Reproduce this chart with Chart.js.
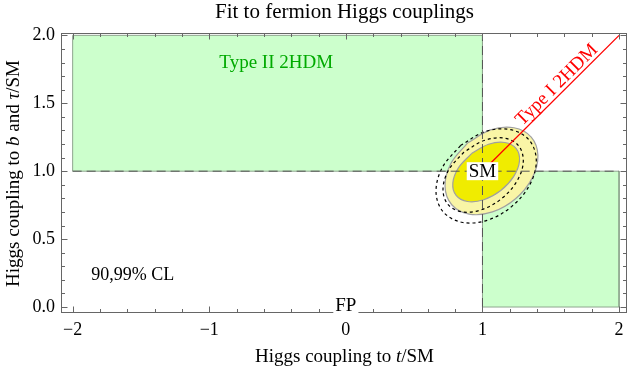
<!DOCTYPE html>
<html><head><meta charset="utf-8">
<script src="https://cdn.jsdelivr.net/npm/chart.js@4.4.1/dist/chart.umd.min.js"></script>
<style>html,body{margin:0;padding:0;background:#fff;}#wrap{width:630px;height:370px;}</style>
</head><body><div id="wrap"><canvas id="c" width="630" height="370"></canvas></div>
<script>
// ---- text ----
const chartTitle = 'Fit to fermion Higgs couplings';
const xAxisTitle = [['Higgs coupling to ', false], ['t', true], ['/SM', false]];
const yAxisTitle = [['Higgs coupling to ', false], ['b', true], [' and ', false], ['τ', true], ['/SM', false]];

// ---- ticks ----
const xTickVals = [-2, -1, 0, 1, 2];
const xTickLabels = ['−2', '−1', '0', '1', '2'];
const xMinorVals = [-1.8, -1.6, -1.4, -1.2, -0.8, -0.6, -0.4, -0.2, 0.2, 0.4, 0.6, 0.8, 1.2, 1.4, 1.6, 1.8];
const yTickVals = [0, 0.5, 1, 1.5, 2];
const yTickLabels = ['0.0', '0.5', '1.0', '1.5', '2.0'];
const yMinorVals = [0.1, 0.2, 0.3, 0.4, 0.6, 0.7, 0.8, 0.9, 1.1, 1.2, 1.3, 1.4, 1.6, 1.7, 1.8, 1.9];

// ---- regions (Type II 2HDM boxes) ----
const typeIIUpperX = [-2, -2, 1, 1, -2];
const typeIIUpperY = [1, 2, 2, 1, 1];
const typeIILowerX = [1, 1, 2, 2, 1];
const typeIILowerY = [0, 1, 1, 0, 0];

// ---- fit contours ----
const cl90X = [0.920, 0.825, 0.783, 0.807, 0.890, 1.009, 1.134, 1.229, 1.271, 1.247, 1.164, 1.045, 0.920];
const cl90Y = [1.130, 1.026, 0.913, 0.822, 0.777, 0.790, 0.858, 0.962, 1.075, 1.166, 1.211, 1.198, 1.130];
const cl99X = [0.890, 0.768, 0.726, 0.775, 0.902, 1.073, 1.242, 1.364, 1.406, 1.357, 1.230, 1.059, 0.890];
const cl99Y = [1.207, 1.055, 0.889, 0.753, 0.684, 0.700, 0.797, 0.949, 1.115, 1.251, 1.320, 1.304, 1.207];
const alt90X = [0.864, 0.753, 0.711, 0.747, 0.852, 0.998, 1.147, 1.257, 1.299, 1.263, 1.158, 1.012, 0.864];
const alt90Y = [1.141, 1.010, 0.869, 0.755, 0.700, 0.718, 0.804, 0.935, 1.075, 1.189, 1.244, 1.226, 1.141];
const alt99X = [0.839, 0.706, 0.660, 0.712, 0.849, 1.033, 1.215, 1.348, 1.394, 1.342, 1.205, 1.021, 0.839];
const alt99Y = [1.189, 1.027, 0.848, 0.701, 0.624, 0.638, 0.741, 0.903, 1.082, 1.229, 1.306, 1.292, 1.189];

// ---- reference lines ----
const hLineX = [-2, 2];
const hLineY = [1, 1];
const vLineX = [1, 1];
const vLineY = [0, 2];
const typeIX = [1, 2];
const typeIY = [1, 2];

// ---- annotations (data coordinates) ----
const noteTexts = ['Type II 2HDM', '90,99% CL', 'Type I 2HDM', 'SM', 'FP'];
const noteX = [-0.51, -1.56, 1.545, 1.0, 0.0];
const noteY = [1.80, 0.235, 1.635, 1.0, 0.015];

const zip = (xs, ys) => xs.map((v, i) => ({x: v, y: ys[i]}));
const serif = "'Liberation Serif', 'Times New Roman', serif";

function drawRich(ctx, parts, cx, cy, size) {
  let total = 0;
  const widths = parts.map(([t, it]) => {
    ctx.font = (it ? 'italic ' : '') + size + 'px ' + serif;
    const w = ctx.measureText(t).width; total += w; return w;
  });
  let xx = cx - total / 2;
  ctx.textAlign = 'left'; ctx.textBaseline = 'middle';
  parts.forEach(([t, it], i) => {
    ctx.font = (it ? 'italic ' : '') + size + 'px ' + serif;
    ctx.fillText(t, xx, cy); xx += widths[i];
  });
}

const decor = {
  id: 'decor',
  beforeDraw(chart) {
    const ctx = chart.ctx; ctx.save(); ctx.fillStyle = '#fff';
    ctx.fillRect(0, 0, chart.width, chart.height); ctx.restore();
  },
  afterDatasetsDraw(chart) {
    const {ctx, chartArea: a, scales: {x, y}} = chart;
    ctx.save();
    // frame
    ctx.strokeStyle = '#666'; ctx.lineWidth = 1;
    ctx.strokeRect(a.left - 0.5, a.top - 0.5, a.right - a.left, a.bottom - a.top);
    // ticks (inside, mirrored)
    ctx.beginPath();
    const xt = (v, L) => { const p = Math.round(x.getPixelForValue(v)) + 0.5;
      ctx.moveTo(p, a.bottom - 0.5); ctx.lineTo(p, a.bottom - 0.5 - L);
      ctx.moveTo(p, a.top - 0.5); ctx.lineTo(p, a.top - 0.5 + L); };
    const yt = (v, L) => { const p = Math.round(y.getPixelForValue(v)) + 0.5;
      ctx.moveTo(a.left - 0.5, p); ctx.lineTo(a.left - 0.5 + L, p);
      ctx.moveTo(a.right - 0.5, p); ctx.lineTo(a.right - 0.5 - L, p); };
    xTickVals.forEach(v => xt(v, 6)); xMinorVals.forEach(v => xt(v, 3.5));
    yTickVals.forEach(v => yt(v, 6)); yMinorVals.forEach(v => yt(v, 3.5));
    ctx.stroke();

    // annotations
    const px = i => x.getPixelForValue(noteX[i]);
    const py = i => y.getPixelForValue(noteY[i]);
    ctx.textAlign = 'center'; ctx.textBaseline = 'middle';
    // Type II
    ctx.fillStyle = 'rgb(0,170,0)'; ctx.font = '19px ' + serif;
    ctx.fillText(noteTexts[0], px(0), py(0));
    // CL
    ctx.fillStyle = '#000'; ctx.font = '18px ' + serif;
    ctx.fillText(noteTexts[1], px(1), py(1));
    // Type I rotated along the line
    const ang = Math.atan2(y.getPixelForValue(typeIY[1]) - y.getPixelForValue(typeIY[0]),
                           x.getPixelForValue(typeIX[1]) - x.getPixelForValue(typeIX[0]));
    ctx.save(); ctx.translate(px(2), py(2)); ctx.rotate(ang);
    ctx.fillStyle = '#f00'; ctx.font = '19px ' + serif;
    ctx.fillText(noteTexts[2], 0, 0); ctx.restore();
    // boxed labels
    [3, 4].forEach(i => {
      ctx.font = '19px ' + serif;
      const w = ctx.measureText(noteTexts[i]).width + 4;
      ctx.fillStyle = '#fff';
      ctx.fillRect(px(i) - w / 2, py(i) - 9, w, 18);
      ctx.fillStyle = '#000';
      ctx.fillText(noteTexts[i], px(i), py(i) + 1);
    });

    // titles
    ctx.fillStyle = '#000';
    const cx = (a.left + a.right) / 2;
    ctx.font = '21px ' + serif; ctx.textAlign = 'center'; ctx.textBaseline = 'middle';
    ctx.fillText(chartTitle, cx, 12);
    drawRich(ctx, xAxisTitle, cx, 357, 19);
    ctx.save(); ctx.translate(14, (a.top + a.bottom) / 2); ctx.rotate(-Math.PI / 2);
    drawRich(ctx, yAxisTitle, 0, 0, 19); ctx.restore();
    ctx.restore();
  }
};

const line = (xs, ys, extra) => Object.assign({
  data: zip(xs, ys), showLine: true, pointRadius: 0, tension: 0, fill: false,
  borderWidth: 1
}, extra);

new Chart(document.getElementById('c'), {
  type: 'scatter',
  data: {
    datasets: [
      line(typeIIUpperX, typeIIUpperY, {fill: 'shape', backgroundColor: 'rgb(204,255,204)', borderColor: '#8fa68f', order: 10}),
      line(typeIILowerX, typeIILowerY, {fill: 'shape', backgroundColor: 'rgb(204,255,204)', borderColor: '#8fa68f', order: 10}),
      line(cl99X, cl99Y, {fill: 'shape', backgroundColor: '#f9f5a6', borderColor: '#a0a0a0', borderWidth: 1.2, tension: 0.35, order: 9}),
      line(cl90X, cl90Y, {fill: 'shape', backgroundColor: 'rgb(240,236,0)', borderColor: '#a0a0a0', borderWidth: 1.2, tension: 0.35, order: 8}),
      line(alt90X, alt90Y, {borderColor: '#000', borderDash: [3, 3], borderWidth: 1.2, tension: 0.35, order: 7}),
      line(alt99X, alt99Y, {borderColor: '#000', borderDash: [3, 3], borderWidth: 1.2, tension: 0.35, order: 7}),
      line(hLineX, hLineY, {borderColor: '#555', borderDash: [9, 5], order: 6}),
      line(vLineX, vLineY, {borderColor: '#555', borderDash: [9, 5], order: 6}),
      line(typeIX, typeIY, {borderColor: '#f00', borderWidth: 1.3, order: 5})
    ]
  },
  options: {
    responsive: false, animation: false, devicePixelRatio: 1,
    layout: {padding: {top: 34, right: 3, left: 0, bottom: 0}},
    plugins: {legend: {display: false}, tooltip: {enabled: false}, title: {display: false}},
    scales: {
      x: {
        type: 'linear', min: -2.078, max: 2.058,
        grid: {display: false, drawTicks: false}, border: {display: false},
        afterBuildTicks: s => { s.ticks = xTickVals.map(v => ({value: v})); },
        afterFit: s => { s.height = 57; },
        ticks: {padding: 6, autoSkip: false, maxRotation: 0, color: '#000',
          font: {family: serif, size: 18}, callback: (v, i) => xTickLabels[i]}
      },
      y: {
        type: 'linear', min: -0.044, max: 2.01,
        grid: {display: false, drawTicks: false}, border: {display: false},
        afterBuildTicks: s => { s.ticks = yTickVals.map(v => ({value: v})); },
        afterFit: s => { s.width = 62; },
        ticks: {padding: 7, autoSkip: false, color: '#000',
          font: {family: serif, size: 18}, callback: (v, i) => yTickLabels[i]}
      }
    }
  },
  plugins: [decor]
});
</script></body></html>
